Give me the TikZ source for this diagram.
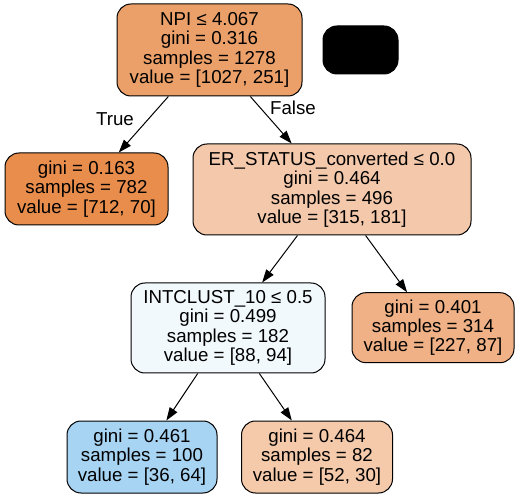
\documentclass[tikz,border=0pt]{standalone}
\usepackage{fontspec}
\setmainfont{Liberation Sans}
\usetikzlibrary{arrows.meta}

\definecolor{rootfill}{RGB}{235,160,105}
\definecolor{leftfill}{RGB}{232,141,76}
\definecolor{erfill}{RGB}{244,201,171}
\definecolor{intcfill}{RGB}{242,249,253}
\definecolor{rightfill}{RGB}{239,177,133}
\definecolor{bluefill}{RGB}{168,212,244}
\definecolor{lastfill}{RGB}{244,202,171}

\begin{document}
\begin{tikzpicture}[x=1pt, y=-1pt,
        treenode/.style={draw=black, line width=1pt, rounded corners=14pt, align=center, inner sep=0pt, font=\fontsize{18.7}{19.4}\selectfont},
        edgelabel/.style={font=\fontsize{18.7}{19.4}\selectfont},
        >={Triangle[length=13pt, width=9pt]}
    ]
        \useasboundingbox (0,0) rectangle (520,497);

        % Root
        \node[treenode, fill=rootfill, minimum width=185pt, minimum height=92pt] (root) at (209.5,50)
            {NPI ≤ 4.067\\gini = 0.316\\samples = 1278\\value = [1027, 251]};
        \node[treenode, fill=black, minimum width=75pt, minimum height=48pt] (blank) at (360.5,50) {};

        % Level 1
        \node[treenode, fill=leftfill, minimum width=163pt, minimum height=72pt] (L1) at (86.5,189)
            {gini = 0.163\\samples = 782\\value = [712, 70]};
        \node[treenode, fill=erfill, minimum width=278pt, minimum height=91pt] (ER) at (332,189.5)
            {ER\_STATUS\_converted ≤ 0.0\\gini = 0.464\\samples = 496\\value = [315, 181]};

        % Level 2
        \node[treenode, fill=intcfill, minimum width=194pt, minimum height=90pt] (IC) at (228,328)
            {INTCLUST\_10 ≤ 0.5\\gini = 0.499\\samples = 182\\value = [88, 94]};
        \node[treenode, fill=rightfill, minimum width=162pt, minimum height=70pt] (R2) at (433,327.7)
            {gini = 0.401\\samples = 314\\value = [227, 87]};

        % Level 3
        \node[treenode, fill=bluefill, minimum width=150pt, minimum height=72pt] (L3) at (142,457)
            {gini = 0.461\\samples = 100\\value = [36, 64]};
        \node[treenode, fill=lastfill, minimum width=151pt, minimum height=72pt] (R3) at (317,457)
            {gini = 0.464\\samples = 82\\value = [52, 30]};

        % Connections
        \draw[->, line width=1pt] (root) -- (L1);
        \draw[->, line width=1pt] (root) -- (ER);
        \draw[->, line width=1pt] (ER) -- (IC);
        \draw[->, line width=1pt] (ER) -- (R2);
        \draw[->, line width=1pt] (IC) -- (L3);
        \draw[->, line width=1pt] (IC) -- (R3);

        % Edge labels
        \node[edgelabel] (truelab) at (115,119) {True};
        \node[edgelabel] (falselab) at (293,108) {False};
    \end{tikzpicture}
\end{document}
